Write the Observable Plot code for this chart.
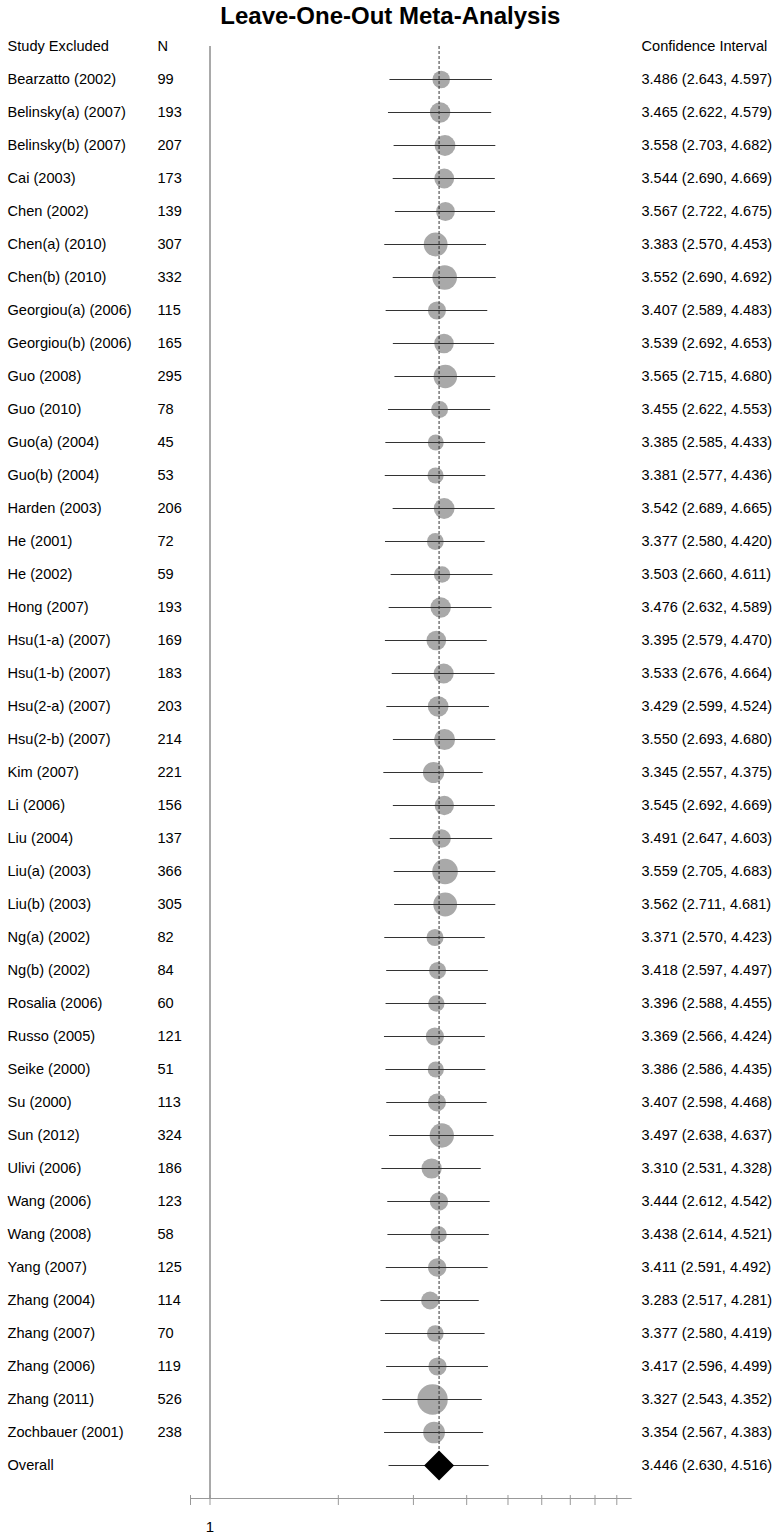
<!DOCTYPE html>
<html>
<head>
<meta charset="utf-8">
<script src="https://cdn.jsdelivr.net/npm/d3@7"></script>
<script src="https://cdn.jsdelivr.net/npm/@observablehq/plot@0.6"></script>
<style>
  body { margin: 0; background: #fff; }
</style>
</head>
<body>
<div id="chart"></div>
<script>
const title = "Leave-One-Out Meta-Analysis";
const headers = ["Study Excluded", "N", "Confidence Interval"];
const studies = [
  "Bearzatto (2002)", "Belinsky(a) (2007)", "Belinsky(b) (2007)", "Cai (2003)", "Chen (2002)",
  "Chen(a) (2010)", "Chen(b) (2010)", "Georgiou(a) (2006)", "Georgiou(b) (2006)", "Guo (2008)",
  "Guo (2010)", "Guo(a) (2004)", "Guo(b) (2004)", "Harden (2003)", "He (2001)",
  "He (2002)", "Hong (2007)", "Hsu(1-a) (2007)", "Hsu(1-b) (2007)", "Hsu(2-a) (2007)",
  "Hsu(2-b) (2007)", "Kim (2007)", "Li (2006)", "Liu (2004)", "Liu(a) (2003)",
  "Liu(b) (2003)", "Ng(a) (2002)", "Ng(b) (2002)", "Rosalia (2006)", "Russo (2005)",
  "Seike (2000)", "Su (2000)", "Sun (2012)", "Ulivi (2006)", "Wang (2006)",
  "Wang (2008)", "Yang (2007)", "Zhang (2004)", "Zhang (2007)", "Zhang (2006)",
  "Zhang (2011)", "Zochbauer (2001)"
];
const sampleN = [
  99, 193, 207, 173, 139,
  307, 332, 115, 165, 295,
  78, 45, 53, 206, 72,
  59, 193, 169, 183, 203,
  214, 221, 156, 137, 366,
  305, 82, 84, 60, 121,
  51, 113, 324, 186, 123,
  58, 125, 114, 70, 119,
  526, 238
];
const estimate = [
  3.486, 3.465, 3.558, 3.544, 3.567,
  3.383, 3.552, 3.407, 3.539, 3.565,
  3.455, 3.385, 3.381, 3.542, 3.377,
  3.503, 3.476, 3.395, 3.533, 3.429,
  3.550, 3.345, 3.545, 3.491, 3.559,
  3.562, 3.371, 3.418, 3.396, 3.369,
  3.386, 3.407, 3.497, 3.310, 3.444,
  3.438, 3.411, 3.283, 3.377, 3.417,
  3.327, 3.354
];
const lower = [
  2.643, 2.622, 2.703, 2.690, 2.722,
  2.570, 2.690, 2.589, 2.692, 2.715,
  2.622, 2.585, 2.577, 2.689, 2.580,
  2.660, 2.632, 2.579, 2.676, 2.599,
  2.693, 2.557, 2.692, 2.647, 2.705,
  2.711, 2.570, 2.597, 2.588, 2.566,
  2.586, 2.598, 2.638, 2.531, 2.612,
  2.614, 2.591, 2.517, 2.580, 2.596,
  2.543, 2.567
];
const upper = [
  4.597, 4.579, 4.682, 4.669, 4.675,
  4.453, 4.692, 4.483, 4.653, 4.680,
  4.553, 4.433, 4.436, 4.665, 4.420,
  4.611, 4.589, 4.470, 4.664, 4.524,
  4.680, 4.375, 4.669, 4.603, 4.683,
  4.681, 4.423, 4.497, 4.455, 4.424,
  4.435, 4.468, 4.637, 4.328, 4.542,
  4.521, 4.492, 4.281, 4.419, 4.499,
  4.352, 4.383
];
const overallLabel = "Overall";
const overallEstimate = 3.446;
const overallLower = 2.630;
const overallUpper = 4.516;
const tickValues = [0.9, 1, 2, 3, 4, 5, 6, 7, 8, 9];
const tickLabels = ["", "1", "", "", "", "", "", "", "", ""];

const rows = studies.map((s, i) => ({
  study: s, n: sampleN[i], est: estimate[i], lo: lower[i], hi: upper[i]
}));
const overall = [{study: overallLabel, est: overallEstimate, lo: overallLower, hi: overallUpper}];
const fmt = d3.format(".3f");
const ciText = d => `${fmt(d.est)} (${fmt(d.lo)}, ${fmt(d.hi)})`;

const HEADER = "__header__", AXIS = "__axis__";
const yDomain = [HEADER, ...studies, overallLabel, AXIS];

const W = 782, H = 1536, mL = 190, mR = 150.3;
const FS = 14.6;
const CIFS = 14.5;

const chart = Plot.plot({
  width: W,
  height: H,
  marginLeft: mL,
  marginRight: mR,
  marginTop: 43,
  marginBottom: 36,
  style: {fontFamily: "'Liberation Sans', Arial, sans-serif", fontSize: FS + "px", color: "#000", background: "#fff"},
  x: {type: "log", domain: [0.9, 9.78], axis: null},
  y: {type: "point", domain: yDomain, padding: 0, axis: null},
  r: {type: "linear", domain: [0, d3.max(sampleN)], range: [7.3, 15.2]},
  marks: [
    // title
    Plot.text([title], {frameAnchor: "top", lineAnchor: "middle", dy: -27, dx: -21, fontSize: 24, fontWeight: "bold", fill: "#000"}),
    // column headers
    Plot.text([headers[0]], {y: () => HEADER, frameAnchor: "left", dx: 7 - mL, textAnchor: "start", fill: "#000"}),
    Plot.text([headers[1]], {y: () => HEADER, frameAnchor: "left", dx: 157 - mL, textAnchor: "start", fill: "#000"}),
    Plot.text([headers[2]], {y: () => HEADER, frameAnchor: "right", dx: 9.3, textAnchor: "start", fill: "#000"}),
    // study labels
    Plot.text(rows, {y: "study", text: "study", frameAnchor: "left", dx: 7 - mL, textAnchor: "start", fill: "#000"}),
    Plot.text(rows, {y: "study", text: d => String(d.n), frameAnchor: "left", dx: 157 - mL, textAnchor: "start", fill: "#000"}),
    Plot.text(rows, {y: "study", text: ciText, frameAnchor: "right", dx: 9.3, textAnchor: "start", fill: "#000", fontSize: CIFS}),
    Plot.text(overall, {y: "study", text: "study", frameAnchor: "left", dx: 7 - mL, textAnchor: "start", fill: "#000"}),
    Plot.text(overall, {y: "study", text: ciText, frameAnchor: "right", dx: 9.3, textAnchor: "start", fill: "#000", fontSize: CIFS}),
    // reference line at 1
    Plot.ruleX([1], {y1: () => HEADER, y2: () => AXIS, stroke: "#555", strokeWidth: 1}),
    // axis line and ticks
    Plot.ruleY([AXIS], {stroke: "#999", strokeWidth: 1}),
    Plot.axisX({ticks: tickValues, tickSize: 10, dy: -5, tickPadding: 16, stroke: "#999",
      tickFormat: (d) => tickLabels[tickValues.indexOf(d)], fontSize: 15, fill: "#000"}),
    // study weights
    Plot.dot(rows, {x: "est", y: "study", r: "n", fill: "#a9a9a9", stroke: "none"}),
    // confidence intervals
    Plot.ruleY(rows, {x1: "lo", x2: "hi", y: "study", stroke: "#333", strokeWidth: 1}),
    Plot.ruleY(overall, {x1: "lo", x2: "hi", y: "study", stroke: "#333", strokeWidth: 1}),
    // overall dashed line
    Plot.ruleX(overall, {x: "est", y1: () => HEADER, y2: "study", stroke: "#333", strokeDasharray: "3,2", strokeWidth: 1}),
    // overall diamond
    Plot.dot(overall, {x: "est", y: "study", symbol: "diamond2", r: 13.5, fill: "#000", stroke: "none"})
  ]
});
document.getElementById("chart").appendChild(chart);
</script>
</body>
</html>
